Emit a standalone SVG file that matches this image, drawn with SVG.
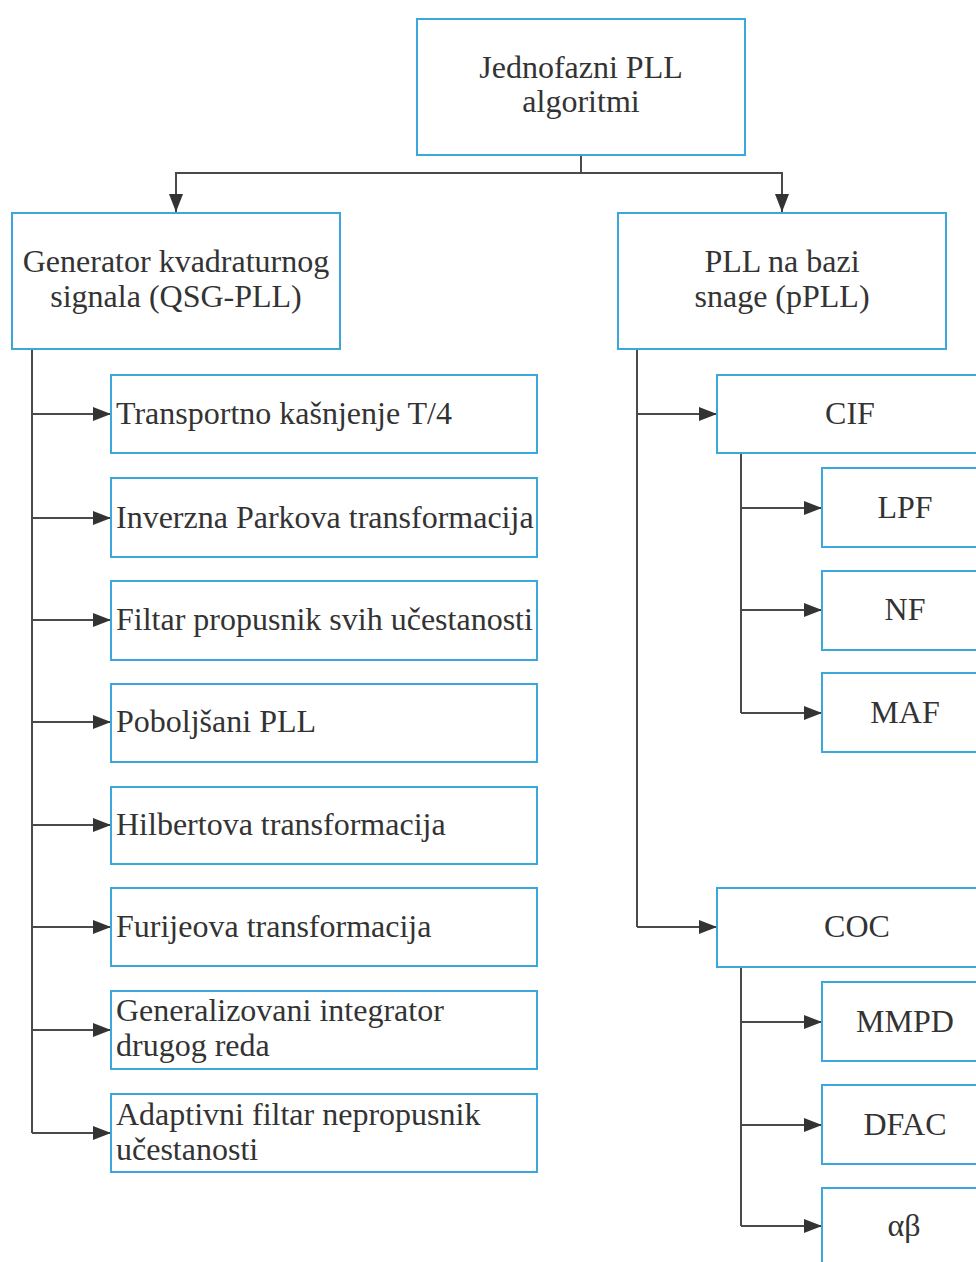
<svg xmlns="http://www.w3.org/2000/svg" width="976" height="1262" viewBox="0 0 976 1262">
  <style>
    .box { fill: #ffffff; stroke: #3aa8dc; stroke-width: 2; }
    .lbl { font-family: "Liberation Serif", "Times New Roman", serif; font-size: 32px; fill: #333333; }
    .mid { text-anchor: middle; }
    .wire { fill: none; stroke: #4a4a4a; stroke-width: 2; }
  </style>
  <defs>
    <marker id="arrow" viewBox="0 0 18 14" refX="18" refY="7" markerWidth="18" markerHeight="14" markerUnits="userSpaceOnUse" orient="auto">
      <path d="M0,0 L18,7 L0,14 Z" fill="#333333"/>
    </marker>
  </defs>
  <rect width="976" height="1262" fill="#ffffff"/>

  <!-- connectors -->
  <g id="connectors" class="wire">
    <path d="M581,155 V173"/>
    <path d="M581,173 H176 V212" marker-end="url(#arrow)"/>
    <path d="M581,173 H782 V212" marker-end="url(#arrow)"/>

    <!-- QSG-PLL branch -->
    <path d="M32,349 V1133"/>
    <path d="M32,414 H111" marker-end="url(#arrow)"/>
    <path d="M32,518 H111" marker-end="url(#arrow)"/>
    <path d="M32,620 H111" marker-end="url(#arrow)"/>
    <path d="M32,722 H111" marker-end="url(#arrow)"/>
    <path d="M32,825 H111" marker-end="url(#arrow)"/>
    <path d="M32,927 H111" marker-end="url(#arrow)"/>
    <path d="M32,1030 H111" marker-end="url(#arrow)"/>
    <path d="M32,1133 H111" marker-end="url(#arrow)"/>

    <!-- pPLL branch -->
    <path d="M637,349 V927"/>
    <path d="M637,414 H717" marker-end="url(#arrow)"/>
    <path d="M637,927 H717" marker-end="url(#arrow)"/>

    <!-- CIF sub-branch -->
    <path d="M741,453 V713"/>
    <path d="M741,508 H822" marker-end="url(#arrow)"/>
    <path d="M741,610 H822" marker-end="url(#arrow)"/>
    <path d="M741,713 H822" marker-end="url(#arrow)"/>

    <!-- COC sub-branch -->
    <path d="M741,967 V1226"/>
    <path d="M741,1022 H822" marker-end="url(#arrow)"/>
    <path d="M741,1125 H822" marker-end="url(#arrow)"/>
    <path d="M741,1226 H822" marker-end="url(#arrow)"/>
  </g>

  <!-- root -->
  <g id="root">
    <rect class="box" x="417" y="19" width="328" height="136"/>
    <text class="lbl mid" x="581" y="78">Jednofazni PLL</text>
    <text class="lbl mid" x="581" y="112">algoritmi</text>
  </g>

  <!-- main categories -->
  <g id="qsg-pll">
    <rect class="box" x="12" y="213" width="328" height="136"/>
    <text class="lbl mid" x="176" y="272">Generator kvadraturnog</text>
    <text class="lbl mid" x="176" y="307">signala (QSG-PLL)</text>
  </g>
  <g id="ppll">
    <rect class="box" x="618" y="213" width="328" height="136"/>
    <text class="lbl mid" x="782" y="272">PLL na bazi</text>
    <text class="lbl mid" x="782" y="307">snage (pPLL)</text>
  </g>

  <!-- QSG-PLL methods -->
  <g id="transport-delay">
    <rect class="box" x="111" y="375" width="426" height="78"/>
    <text class="lbl" x="116" y="424">Transportno kašnjenje T/4</text>
  </g>
  <g id="inverse-park">
    <rect class="box" x="111" y="478" width="426" height="79"/>
    <text class="lbl" x="116" y="528">Inverzna Parkova transformacija</text>
  </g>
  <g id="all-pass">
    <rect class="box" x="111" y="581" width="426" height="79"/>
    <text class="lbl" x="116" y="630">Filtar propusnik svih učestanosti</text>
  </g>
  <g id="enhanced-pll">
    <rect class="box" x="111" y="684" width="426" height="78"/>
    <text class="lbl" x="116" y="732">Poboljšani PLL</text>
  </g>
  <g id="hilbert">
    <rect class="box" x="111" y="787" width="426" height="77"/>
    <text class="lbl" x="116" y="835">Hilbertova transformacija</text>
  </g>
  <g id="fourier">
    <rect class="box" x="111" y="888" width="426" height="78"/>
    <text class="lbl" x="116" y="937">Furijeova transformacija</text>
  </g>
  <g id="sogi">
    <rect class="box" x="111" y="991" width="426" height="78"/>
    <text class="lbl" x="116" y="1021">Generalizovani integrator</text>
    <text class="lbl" x="116" y="1056">drugog reda</text>
  </g>
  <g id="anf">
    <rect class="box" x="111" y="1094" width="426" height="78"/>
    <text class="lbl" x="116" y="1125">Adaptivni filtar nepropusnik</text>
    <text class="lbl" x="116" y="1160">učestanosti</text>
  </g>

  <!-- pPLL methods -->
  <g id="cif">
    <rect class="box" x="717" y="375" width="300" height="78"/>
    <text class="lbl mid" x="850" y="424">CIF</text>
  </g>
  <g id="lpf">
    <rect class="box" x="822" y="468" width="200" height="79"/>
    <text class="lbl mid" x="905" y="518">LPF</text>
  </g>
  <g id="nf">
    <rect class="box" x="822" y="571" width="200" height="79"/>
    <text class="lbl mid" x="905" y="620">NF</text>
  </g>
  <g id="maf">
    <rect class="box" x="822" y="673" width="200" height="79"/>
    <text class="lbl mid" x="905" y="723">MAF</text>
  </g>
  <g id="coc">
    <rect class="box" x="717" y="888" width="300" height="79"/>
    <text class="lbl mid" x="857" y="937">COC</text>
  </g>
  <g id="mmpd">
    <rect class="box" x="822" y="982" width="200" height="79"/>
    <text class="lbl mid" x="905" y="1032">MMPD</text>
  </g>
  <g id="dfac">
    <rect class="box" x="822" y="1085" width="200" height="79"/>
    <text class="lbl mid" x="905" y="1135">DFAC</text>
  </g>
  <g id="alpha-beta">
    <rect class="box" x="822" y="1188" width="200" height="100"/>
    <text class="lbl mid" x="904" y="1236">αβ</text>
  </g>
</svg>
